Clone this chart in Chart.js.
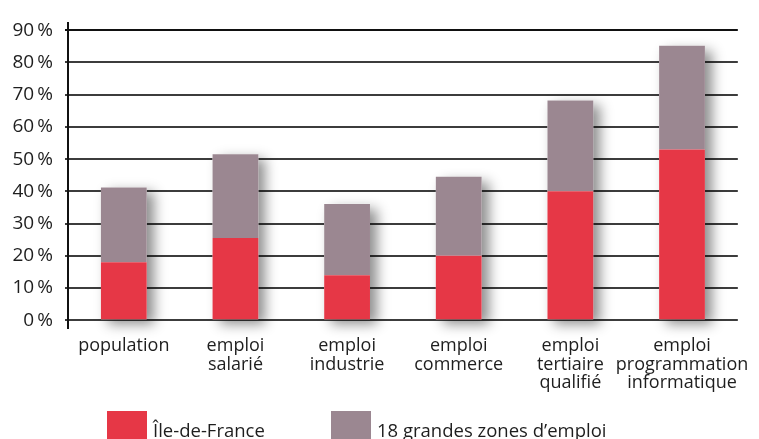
<!DOCTYPE html>
<html>
<head>
<meta charset="utf-8">
<script src="https://cdn.jsdelivr.net/npm/chart.js@4/dist/chart.umd.min.js"></script>
<style>
  html, body { margin: 0; padding: 0; background: #fff; }
  #wrap { position: relative; width: 759px; height: 439px; overflow: hidden; }
  #legend { position: absolute; left: 0; top: 0; width: 759px; height: 439px; pointer-events: none;
            font-family: "Open Sans", sans-serif; font-size: 18.5px; color: #1e1e1e; }
  .item { position: absolute; top: 411px; display: flex; align-items: flex-start; }
  .box { width: 40px; height: 30px; margin-right: 6px; }
  .lbl { line-height: 18px; margin-top: 10px; white-space: nowrap; }
</style>
</head>
<body>
<div id="wrap">
  <canvas id="chart" width="759" height="439"></canvas>
  <div id="legend"></div>
</div>
<script>
// values, in %
const categories = [
  ["population"],
  ["emploi", "salarié"],
  ["emploi", "industrie"],
  ["emploi", "commerce"],
  ["emploi", "tertiaire", "qualifié"],
  ["emploi", "programmation", "informatique"],
];
const idfValues = [18, 25.5, 14, 20, 40, 53];
const zonesValues = [23.2, 26, 22.1, 24.5, 28.2, 32.2];
const yTicks = [0, 10, 20, 30, 40, 50, 60, 70, 80, 90];
const seriesLabels = ["Île-de-France", "18 grandes zones d’emploi"];
const seriesColors = ["#e63746", "#9b8791"];
const legendLefts = [107, 331];

// one soft shadow behind each whole stack (right/bottom), like the print version
const stackShadow = {
  id: "stackShadow",
  beforeDatasetsDraw(chart) {
    const bottom = chart.getDatasetMeta(0).data;
    const top = chart.getDatasetMeta(1).data;
    const ctx = chart.ctx;
    ctx.save();
    ctx.shadowColor = "rgba(0,0,0,0.45)";
    ctx.shadowBlur = 12;
    ctx.shadowOffsetX = 7;
    ctx.shadowOffsetY = 5;
    ctx.fillStyle = "#fff";
    top.forEach((el, i) => {
      const b = bottom[i];
      ctx.fillRect(el.x - el.width / 2, el.y, el.width, b.base - el.y);
    });
    ctx.restore();
  },
};

new Chart(document.getElementById("chart"), {
  type: "bar",
  data: {
    labels: categories,
    datasets: [
      { label: seriesLabels[0], data: idfValues, backgroundColor: seriesColors[0] },
      { label: seriesLabels[1], data: zonesValues, backgroundColor: seriesColors[1] },
    ],
  },
  options: {
    responsive: false,
    animation: false,
    layout: { padding: { left: 0, right: 21, top: 16, bottom: 0 } },
    datasets: { bar: { barPercentage: 0.41, categoryPercentage: 1, borderWidth: 0 } },
    scales: {
      x: {
        stacked: true,
        grid: { display: false, drawTicks: false },
        border: { display: false },
        ticks: {
          color: "#1e1e1e",
          padding: 9,
          maxRotation: 0,
          minRotation: 0,
          autoSkip: false,
          font: { family: "Open Sans", size: 18, lineHeight: 1.02 },
        },
        afterFit: (scale) => { scale.height = 111; },
      },
      y: {
        stacked: true,
        min: -2.4,
        max: 92.1,
        ticks: {
          color: "#1e1e1e",
          padding: 12,
          font: { family: "Open Sans", size: 19 },
          callback: (v) => v + "\u2009%",
        },
        afterBuildTicks: (scale) => {
          scale.ticks = yTicks.map((value) => ({ value }));
        },
        afterFit: (scale) => { scale.width = 68; },
        grid: {
          color: (c) => (c.tick && c.tick.value === 90 ? "#111" : "#3c3c3c"),
          lineWidth: 2,
          tickLength: 3,
        },
        border: { display: true, color: "#111", width: 2 },
      },
    },
    plugins: {
      legend: { display: false },
      tooltip: { enabled: false },
    },
  },
  plugins: [stackShadow],
});

const legend = document.getElementById("legend");
seriesLabels.forEach((text, i) => {
  const item = document.createElement("div");
  item.className = "item";
  item.style.left = legendLefts[i] + "px";
  item.innerHTML = `<div class="box" style="background:${seriesColors[i]}"></div><div class="lbl"></div>`;
  item.querySelector(".lbl").textContent = text;
  legend.appendChild(item);
});
</script>
</body>
</html>
